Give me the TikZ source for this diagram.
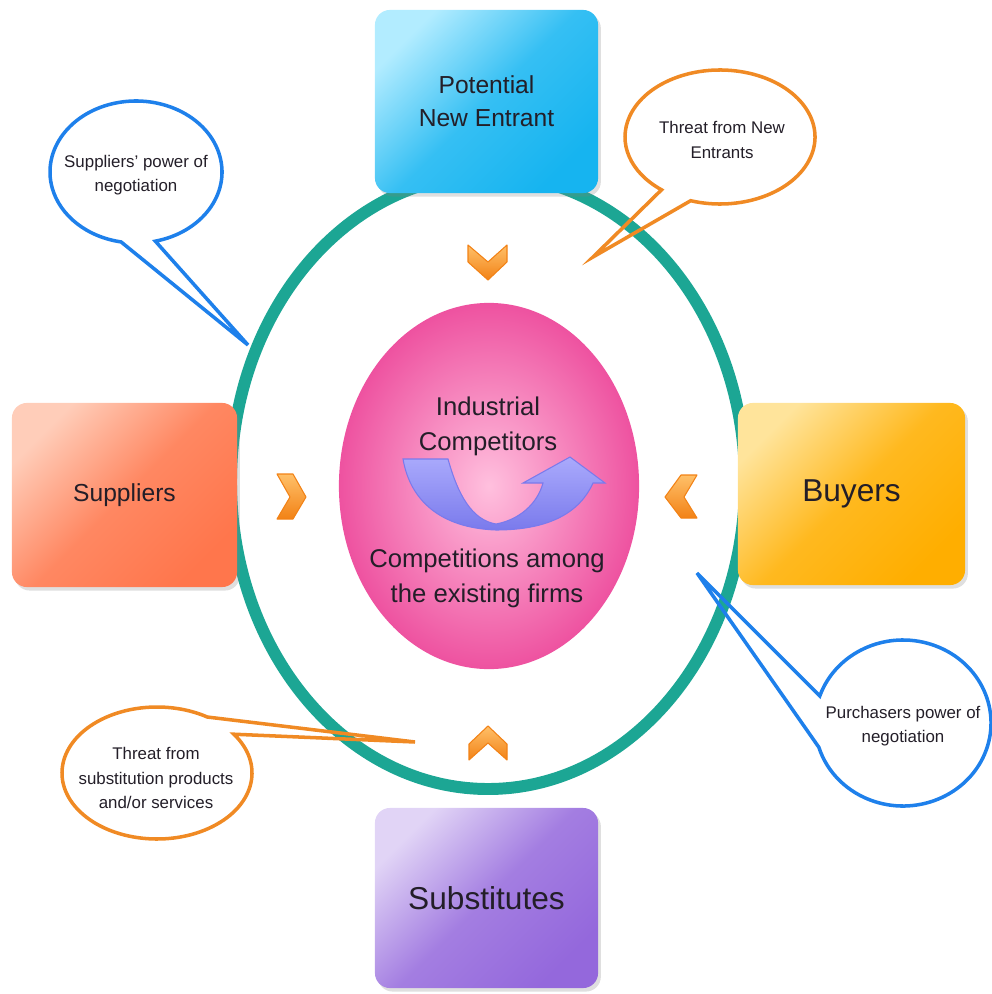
\documentclass[tikz,border=0pt]{standalone}
\usepackage{fontspec}
\setmainfont{Liberation Sans}
\usetikzlibrary{calc,shapes.geometric,shadows}

\definecolor{ringteal}{RGB}{28,166,148}
\definecolor{entrantlight}{RGB}{178,236,255}
\definecolor{entrantdark}{RGB}{22,180,240}
\definecolor{supplierlight}{RGB}{255,205,185}
\definecolor{supplierdark}{RGB}{255,118,76}
\definecolor{buyerlight}{RGB}{255,228,155}
\definecolor{buyerdark}{RGB}{255,174,0}
\definecolor{substlight}{RGB}{225,212,246}
\definecolor{substdark}{RGB}{148,104,220}
\definecolor{rivalcore}{RGB}{255,192,222}
\definecolor{rivaledge}{RGB}{238,82,160}
\definecolor{ribbonlight}{RGB}{170,170,252}
\definecolor{ribbondark}{RGB}{122,122,236}
\definecolor{chevlight}{RGB}{255,192,105}
\definecolor{chevdark}{RGB}{242,130,22}
\definecolor{callblue}{RGB}{30,128,235}
\definecolor{callorange}{RGB}{240,138,36}
\definecolor{ink}{RGB}{35,30,40}

\newcommand{\fs}[2]{\fontsize{#1}{#2}\selectfont}
% speech bubble: centre, gap between two angles, radii, tip
\def\speechbubble[#1](#2)(#3:#4:#5:#6)(#7){\draw[#1] ($(#2)+(#3:#5 and #6)$) arc[start angle=#3, end angle=#4, x radius=#5, y radius=#6] -- (#7) -- cycle;}

\begin{document}
\begin{tikzpicture}[x=0.01cm, y=-0.01cm,
		forcebox/.style 2 args={rounded corners=0.15cm, top color=#1, bottom color=#2, middle color=#2!80!#1, shading angle=45, text=ink, align=center, inner sep=0pt, drop shadow={shadow xshift=0.8pt, shadow yshift=-1pt, opacity=0.25}},
		bubble/.style={draw=#1, line width=1pt, line join=miter},
		bubbletext/.style={text=ink, align=center, font=\fs{4.8}{7}},
		chevron/.style={top color=chevlight, bottom color=chevdark, draw=chevdark, line width=0.3pt, line join=round}]
			%%%%% START %%%%%
			
			\useasboundingbox (0, 0) rectangle (992, 994);
			
			\draw[line width=3.4pt, color=ringteal] (488, 482) ellipse [x radius=257, y radius=307];
			
			\node[ellipse, minimum width=3cm, minimum height=3.66cm, inner color=rivalcore, outer color=rivaledge] (rivals) at (489, 486) {};
			\node[text=ink, align=center, font=\fs{7.3}{10}] (rivalname) at (488, 426) {Industrial\\Competitors};
			\node[text=ink, align=center, font=\fs{7.3}{10}] (rivaltext) at (487, 578) {Competitions among\\the existing firms};
			
			\draw[top color=ribbonlight, bottom color=ribbondark, draw=ribbondark, line width=0.3pt]
				(403, 459) -- (448, 459) .. controls (458, 495) and (472, 520) .. (496, 524)
				.. controls (518, 520) and (537, 505) .. (543, 483) -- (523, 483) -- (570, 457) -- (605, 483) -- (593, 483)
				.. controls (580, 512) and (550, 530) .. (496, 530) .. controls (440, 528) and (410, 500) .. (403, 459) -- cycle;
			
			\node[forcebox={entrantlight}{entrantdark}, minimum width=2.23cm, minimum height=1.83cm, font=\fs{7}{9.4}] (entrant) at (486.5, 101.5) {Potential\\New Entrant};
			\node[forcebox={supplierlight}{supplierdark}, minimum width=2.25cm, minimum height=1.84cm, font=\fs{7}{9.4}] (suppliers) at (124.5, 495) {Suppliers};
			\node[forcebox={buyerlight}{buyerdark}, minimum width=2.27cm, minimum height=1.82cm, font=\fs{9}{11}] (buyers) at (851.5, 494) {Buyers};
			\node[forcebox={substlight}{substdark}, minimum width=2.23cm, minimum height=1.8cm, font=\fs{9}{11}] (substitutes) at (486.5, 898) {Substitutes};
			
			\draw[chevron] (468, 245) -- (488, 262) -- (507, 245) -- (507, 262) -- (488, 280) -- (468, 262) -- cycle;
			\draw[chevron] (277, 474) -- (293, 474) -- (306, 497) -- (293, 519) -- (277, 519) -- (290, 497) -- cycle;
			\draw[chevron] (697, 475) -- (681, 475) -- (665, 497) -- (681, 518) -- (697, 518) -- (684, 497) -- cycle;
			\draw[chevron] (469, 760) -- (488, 743) -- (507, 760) -- (507, 744) -- (488, 726) -- (469, 744) -- cycle;
			
			\coordinate (suppliertip) at (248, 345);
			\coordinate (entranttip) at (593, 257);
			\coordinate (buyertip) at (697, 573);
			\coordinate (substtip) at (415, 742);
			
			\speechbubble[bubble=callblue](136, 172)(77:-260:86:71)(suppliertip)
			\speechbubble[bubble=callorange](720, 137)(108:-232:95:67)(entranttip)
			\speechbubble[bubble=callblue](903, 723)(199:523:88:83)(buyertip)
			\speechbubble[bubble=callorange](157, 773)(-36:302:95:66)(substtip)
			
			\node[bubbletext] (supplierpower) at (136, 175) {Suppliers' power of\\negotiation};
			\node[bubbletext] (entrantthreat) at (722, 140) {Threat from New\\Entrants};
			\node[bubbletext] (buyerpower) at (903, 726) {Purchasers power of\\negotiation};
			\node[bubbletext] (substthreat) at (156, 778) {Threat from\\substitution products\\and/or services};
			
			%%%%% END %%%%%
		\end{tikzpicture}
\end{document}
